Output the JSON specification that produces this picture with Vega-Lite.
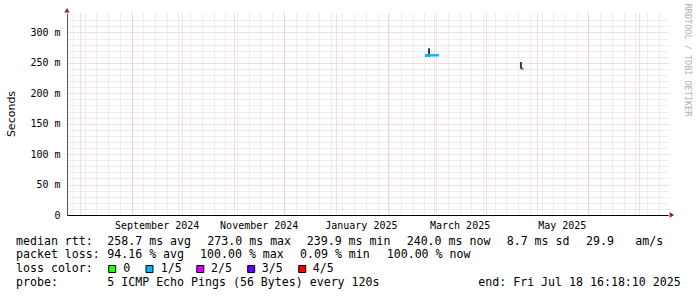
{
  "$schema": "https://vega.github.io/schema/vega-lite/v6.json",
  "autosize": {"type": "none"},
  "width": 601,
  "height": 202,
  "padding": {"left": 67, "top": 13, "right": 29, "bottom": 82},
  "background": "#ffffff",
  "config": {
    "view": {"stroke": null},
    "axis": {"labelFont": "DejaVu Sans Mono", "labelFontSize": 10, "labelColor": "#000000", "titleFont": "DejaVu Sans", "titleFontWeight": "normal", "titleColor": "#000000"}
  },
  "datasets": {
    "smoke": [
      {"t": "2025-02-23T23:00:00", "lo": 260, "hi": 263.5},
      {"t": "2025-02-25T17:00:00", "lo": 260, "hi": 274},
      {"t": "2025-04-21T16:00:00", "lo": 240.5, "hi": 251.5}
    ],
    "median": [
      {"t0": "2025-02-23T08:00:00", "t1": "2025-03-03T16:00:00", "v": 262.5, "loss": "1/5"},
      {"t0": "2025-04-21T21:00:00", "t1": "2025-04-22T11:00:00", "v": 240.2, "loss": "4/5"},
      {"t0": "2025-04-22T11:00:00", "t1": "2025-04-23T06:00:00", "v": 240.2, "loss": "1/5"}
    ],
    "arrows": [
      {"t": "2024-07-24T11:00:00", "v": 336.5, "dir": "up"},
      {"t": "2025-07-20T20:00:00", "v": 0, "dir": "right"}
    ],
    "legendText": [
      {"col": 0, "row": 1, "txt": "median rtt:"},
      {"col": 13.04, "row": 1, "txt": "258.7 ms avg"},
      {"col": 27.33, "row": 1, "txt": "273.0 ms max"},
      {"col": 41.53, "row": 1, "txt": "239.9 ms min"},
      {"col": 55.81, "row": 1, "txt": "240.0 ms now"},
      {"col": 70.1, "row": 1, "txt": "8.7 ms sd"},
      {"col": 81.43, "row": 1, "txt": "29.9"},
      {"col": 88.47, "row": 1, "txt": "am/s"},
      {"col": 0, "row": 2, "txt": "packet loss:"},
      {"col": 13.04, "row": 2, "txt": "94.16 % avg"},
      {"col": 26.29, "row": 2, "txt": "100.00 % max"},
      {"col": 40.57, "row": 2, "txt": "0.09 % min"},
      {"col": 52.96, "row": 2, "txt": "100.00 % now"},
      {"col": 0, "row": 3, "txt": "loss color:"},
      {"col": 15.33, "row": 3, "txt": "0"},
      {"col": 20.67, "row": 3, "txt": "1/5"},
      {"col": 27.86, "row": 3, "txt": "2/5"},
      {"col": 35.1, "row": 3, "txt": "3/5"},
      {"col": 42.39, "row": 3, "txt": "4/5"},
      {"col": 0, "row": 4, "txt": "probe:"},
      {"col": 13.04, "row": 4, "txt": "5 ICMP Echo Pings (56 Bytes) every 120s"},
      {"col": 66.04, "row": 4, "txt": "end: Fri Jul 18 16:18:10 2025"}
    ],
    "lossKeys": [
      {"col": 13.74, "row": 3, "loss": "0"},
      {"col": 19.07, "row": 3, "loss": "1/5"},
      {"col": 26.33, "row": 3, "loss": "2/5"},
      {"col": 33.6, "row": 3, "loss": "3/5"},
      {"col": 40.89, "row": 3, "loss": "4/5"}
    ],
    "watermark": [
      {"col": 95.93, "row": -12.29, "txt": "RRDTOOL / TOBI OETIKER"}
    ]
  },
  "layer": [
    {
      "layer": [
        {
          "data": {"name": "smoke"},
          "mark": {"type": "rule", "color": "#2b2b2b", "strokeWidth": 1.8},
          "encoding": {
            "x": {
              "field": "t", "type": "temporal",
              "scale": {"domain": [{"year": 2024, "month": 7, "date": 24, "hours": 11}, {"year": 2025, "month": 7, "date": 18, "hours": 12}]},
              "axis": {
                "orient": "bottom",
                "values": [
                  {"year": 2024, "month": 7, "date": 28}, {"year": 2024, "month": 8, "date": 4}, {"year": 2024, "month": 8, "date": 11}, {"year": 2024, "month": 8, "date": 18}, {"year": 2024, "month": 8, "date": 25},
                  {"year": 2024, "month": 9, "date": 1}, {"year": 2024, "month": 9, "date": 8}, {"year": 2024, "month": 9, "date": 15}, {"year": 2024, "month": 9, "date": 22}, {"year": 2024, "month": 9, "date": 29},
                  {"year": 2024, "month": 10, "date": 6}, {"year": 2024, "month": 10, "date": 13}, {"year": 2024, "month": 10, "date": 20}, {"year": 2024, "month": 10, "date": 27},
                  {"year": 2024, "month": 11, "date": 3}, {"year": 2024, "month": 11, "date": 10}, {"year": 2024, "month": 11, "date": 17}, {"year": 2024, "month": 11, "date": 24},
                  {"year": 2024, "month": 12, "date": 1}, {"year": 2024, "month": 12, "date": 8}, {"year": 2024, "month": 12, "date": 15}, {"year": 2024, "month": 12, "date": 22}, {"year": 2024, "month": 12, "date": 29},
                  {"year": 2025, "month": 1, "date": 5}, {"year": 2025, "month": 1, "date": 12}, {"year": 2025, "month": 1, "date": 19}, {"year": 2025, "month": 1, "date": 26},
                  {"year": 2025, "month": 2, "date": 2}, {"year": 2025, "month": 2, "date": 9}, {"year": 2025, "month": 2, "date": 16}, {"year": 2025, "month": 2, "date": 23},
                  {"year": 2025, "month": 3, "date": 2}, {"year": 2025, "month": 3, "date": 9}, {"year": 2025, "month": 3, "date": 16}, {"year": 2025, "month": 3, "date": 23}, {"year": 2025, "month": 3, "date": 30},
                  {"year": 2025, "month": 4, "date": 6}, {"year": 2025, "month": 4, "date": 13}, {"year": 2025, "month": 4, "date": 20}, {"year": 2025, "month": 4, "date": 27},
                  {"year": 2025, "month": 5, "date": 4}, {"year": 2025, "month": 5, "date": 11}, {"year": 2025, "month": 5, "date": 18}, {"year": 2025, "month": 5, "date": 25},
                  {"year": 2025, "month": 6, "date": 1}, {"year": 2025, "month": 6, "date": 8}, {"year": 2025, "month": 6, "date": 15}, {"year": 2025, "month": 6, "date": 22}, {"year": 2025, "month": 6, "date": 29},
                  {"year": 2025, "month": 7, "date": 6}, {"year": 2025, "month": 7, "date": 13}
                ],
                "grid": true, "gridColor": "#dcdcdc", "gridDash": [1, 1], "gridWidth": 1,
                "labels": false, "ticks": false, "domain": false, "title": null
              }
            },
            "y": {
              "field": "lo", "type": "quantitative",
              "scale": {"domain": [0, 332], "nice": false, "zero": false},
              "axis": {
                "orient": "left",
                "values": [10, 20, 30, 40, 60, 70, 80, 90, 110, 120, 130, 140, 160, 170, 180, 190, 210, 220, 230, 240, 260, 270, 280, 290, 310, 320],
                "grid": true, "gridColor": "#dcdcdc", "gridDash": [1, 1], "gridWidth": 1,
                "labels": false, "ticks": false, "domain": false, "title": null
              }
            },
            "y2": {"field": "hi"}
          }
        },
        {
          "data": {"name": "median"},
          "mark": {"type": "rule", "strokeWidth": 2.5},
          "encoding": {
            "x": {
              "field": "t0", "type": "temporal",
              "scale": {"domain": [{"year": 2024, "month": 7, "date": 24, "hours": 11}, {"year": 2025, "month": 7, "date": 18, "hours": 12}]},
              "axis": {
                "orient": "bottom",
                "values": [
                  {"year": 2024, "month": 8, "date": 1}, {"year": 2024, "month": 9, "date": 1}, {"year": 2024, "month": 10, "date": 1}, {"year": 2024, "month": 11, "date": 1}, {"year": 2024, "month": 12, "date": 1},
                  {"year": 2025, "month": 1, "date": 1}, {"year": 2025, "month": 2, "date": 1}, {"year": 2025, "month": 3, "date": 1}, {"year": 2025, "month": 4, "date": 1}, {"year": 2025, "month": 5, "date": 1},
                  {"year": 2025, "month": 6, "date": 1}, {"year": 2025, "month": 7, "date": 1}
                ],
                "grid": true, "gridColor": "#f2b8b8", "gridDash": [1, 1], "gridWidth": 1,
                "labels": false, "ticks": false, "domain": false, "title": null
              }
            },
            "x2": {"field": "t1"},
            "y": {
              "field": "v", "type": "quantitative",
              "scale": {"domain": [0, 332], "nice": false, "zero": false},
              "axis": {
                "orient": "left",
                "values": [0, 50, 100, 150, 200, 250, 300],
                "grid": true, "gridColor": "#f2b8b8", "gridDash": [1, 1], "gridWidth": 1,
                "labelExpr": "datum.value == 0 ? '0' : datum.value + ' m'",
                "labelPadding": 7, "ticks": false, "tickSize": 0,
                "domain": true, "domainColor": "#555555", "domainWidth": 1,
                "title": "Seconds", "titleFontSize": 11, "titleX": -56, "titleY": 100.5,
                "titleAngle": 270, "titleAlign": "center", "titleBaseline": "middle"
              }
            },
            "color": {
              "field": "loss", "type": "nominal",
              "scale": {"domain": ["0", "1/5", "2/5", "3/5", "4/5"], "range": ["#26ff00", "#00b8ff", "#dd00ff", "#5e00ff", "#ff0000"]},
              "legend": null
            }
          }
        },
        {
          "data": {"name": "arrows"},
          "mark": {"type": "point", "filled": true, "opacity": 1, "size": 28, "color": "#992222"},
          "encoding": {
            "x": {
              "field": "t", "type": "temporal",
              "scale": {"domain": [{"year": 2024, "month": 7, "date": 24, "hours": 11}, {"year": 2025, "month": 7, "date": 18, "hours": 12}]},
              "axis": {
                "orient": "bottom",
                "values": [
                  {"year": 2024, "month": 9, "date": 16}, {"year": 2024, "month": 11, "date": 16},
                  {"year": 2025, "month": 1, "date": 16}, {"year": 2025, "month": 3, "date": 16}, {"year": 2025, "month": 5, "date": 16}
                ],
                "format": "%B %Y", "formatType": "time",
                "grid": false, "ticks": false, "tickSize": 0, "labelPadding": 5,
                "labelFlush": false, "labelOverlap": false,
                "domain": true, "domainColor": "#000000", "domainWidth": 1,
                "title": null
              }
            },
            "y": {
              "field": "v", "type": "quantitative",
              "scale": {"domain": [0, 332], "nice": false, "zero": false},
              "axis": null
            },
            "shape": {
              "field": "dir", "type": "nominal",
              "scale": {"domain": ["up", "right"], "range": ["triangle-up", "triangle-right"]},
              "legend": null
            }
          }
        }
      ],
      "resolve": {"axis": {"x": "independent", "y": "independent"}}
    },
    {
      "layer": [
        {
          "data": {"name": "legendText"},
          "mark": {"type": "text", "font": "DejaVu Sans Mono", "fontSize": 11.6, "align": "left", "baseline": "middle", "color": "#000000"},
          "encoding": {
            "x": {"field": "col", "type": "quantitative", "scale": {"domain": [7.2857, 93.1429], "nice": false, "zero": false}, "axis": null},
            "y": {"field": "row", "type": "quantitative", "scale": {"domain": [-15.73, -0.953], "reverse": true, "nice": false, "zero": false}, "axis": null},
            "text": {"field": "txt"}
          }
        },
        {
          "data": {"name": "lossKeys"},
          "mark": {"type": "point", "shape": "square", "filled": true, "size": 49, "stroke": "#000000", "strokeWidth": 1, "opacity": 1},
          "encoding": {
            "x": {"field": "col", "type": "quantitative", "scale": {"domain": [7.2857, 93.1429], "nice": false, "zero": false}, "axis": null},
            "y": {"field": "row", "type": "quantitative", "scale": {"domain": [-15.73, -0.953], "reverse": true, "nice": false, "zero": false}, "axis": null},
            "color": {
              "field": "loss", "type": "nominal",
              "scale": {"domain": ["0", "1/5", "2/5", "3/5", "4/5"], "range": ["#26ff00", "#00b8ff", "#dd00ff", "#5e00ff", "#ff0000"]},
              "legend": null
            }
          }
        },
        {
          "data": {"name": "watermark"},
          "mark": {"type": "text", "font": "DejaVu Sans Mono", "fontSize": 8.5, "angle": 90, "align": "center", "baseline": "middle", "color": "#b0b0b0"},
          "encoding": {
            "x": {"field": "col", "type": "quantitative", "scale": {"domain": [7.2857, 93.1429], "nice": false, "zero": false}, "axis": null},
            "y": {"field": "row", "type": "quantitative", "scale": {"domain": [-15.73, -0.953], "reverse": true, "nice": false, "zero": false}, "axis": null},
            "text": {"field": "txt"}
          }
        }
      ]
    }
  ],
  "resolve": {"scale": {"x": "independent", "y": "independent"}}
}
